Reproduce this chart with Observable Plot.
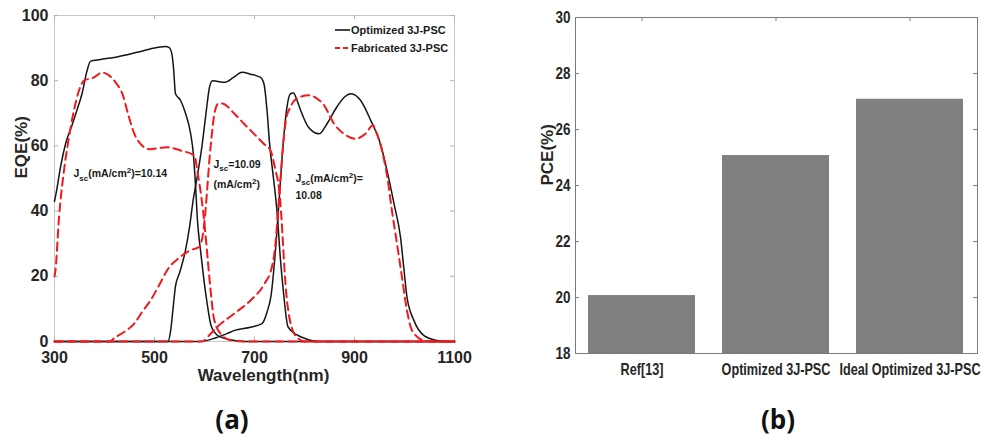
<!DOCTYPE html>
<html><head><meta charset="utf-8">
<script src="https://cdn.jsdelivr.net/npm/d3@7"></script>
<script src="https://cdn.jsdelivr.net/npm/@observablehq/plot@0.6"></script>
<style>
html,body{margin:0;padding:0;background:#fff;}
#wrap{position:relative;width:982px;height:436px;overflow:hidden;}
.panel{position:absolute;top:0;}
.cap{position:absolute;top:404px;width:80px;margin-left:-40px;text-align:center;line-height:30px;
  font-family:'Open Sans','Liberation Sans',sans-serif;font-weight:bold;font-size:26px;color:#111;}
</style></head><body>
<div id="wrap"><div class="cap" style="left:232px">(a)</div><div class="cap" style="left:778px">(b)</div></div>
<script>
// ---------- Panel (a) data: [wavelength (nm), EQE (%)] ----------
const optCell1 = [[300,43],[305,47],[312,53.5],[322,60.6],[335,66.3],[345,71],[355,76],[365,83],[372,86],[392,86.5],[425,87.3],[465,88.7],[505,90.2],[522,90.5],[529,90.2],[535,88],[538,84],[542,76],[552,74],[562,70],[572,64],[578,57],[582,48],[586,37],[592,28],[598,20],[605,12],[613,5],[625,2],[640,1],[660,0.3],[680,0],[1100,0]];
const optCell2 = [[300,0],[527,0],[532,3],[537,10],[542,17],[550,21],[562,28],[570,35],[577,43],[586,51],[595,60],[603,70],[610,78],[616,80],[625,79.8],[640,79.5],[658,81],[675,82.6],[692,82],[712,81],[719,79],[725,71],[730,61],[738,50],[745,40],[752,25],[758,15],[767,4.5],[785,2],[800,1],[825,0],[1100,0]];
const optCell3 = [[300,0],[590,0],[620,1],[645,2.4],[660,3.4],[692,4.4],[715,5.5],[725,9],[733,14],[743,30],[750,45],[757,60],[765,72],[772,76],[778,76.2],[785,74],[792,71],[808,65.7],[829,63.7],[845,66.8],[865,72],[880,75],[893,76],[912,74],[932,68],[952,60.6],[965,52.5],[979,42.3],[992,32],[999,22],[1005,13.6],[1019,6.4],[1039,1.8],[1065,0.3],[1080,0],[1100,0]];
const fabCell1 = [[300,20],[302,22],[309,38],[319,52.5],[329,62.7],[339,71],[349,77],[359,80],[379,81],[395,82.5],[405,82],[422,79.5],[438,75],[445,71],[459,64],[472,60.6],[490,59],[525,59.6],[552,58.6],[580,57],[586,52],[594,44],[600,36],[606,26],[612,16],[619,7],[632,2.4],[652,0.4],[680,0],[1100,0]];
const fabCell2 = [[300,0],[410,0],[419,1],[440,3],[459,5.4],[475,9],[492,12.6],[510,17.5],[525,21.8],[552,26],[572,28],[589,29],[597,33],[602,40],[606,48],[610,56],[615,64],[620,70],[628,73],[635,73],[659,70],[679,66.8],[699,63.7],[719,60.6],[732,58.6],[742,52.5],[749,47],[753,40],[757,30],[760,22],[764,14],[768,9],[775,4],[785,1.3],[800,0],[1100,0]];
const fabCell3 = [[300,0],[595,0],[610,2],[625,4.4],[659,8.5],[692,12.6],[719,17.5],[735,23],[742,30],[747,40],[752,50],[757,60],[763,68],[772,72],[790,75],[810,75.5],[825,74.5],[839,72.5],[859,66.8],[879,63.7],[902,62.2],[922,63.7],[937,66.3],[945,63.7],[955,58.6],[965,51],[975,40],[985,30],[995,19.7],[1005,9.5],[1015,3.4],[1039,0.3],[1060,0],[1100,0]];
const wlTicks = [300,500,700,900,1100];
const eqeTicks = [0,20,40,60,80,100];
const legendLabels = ["Optimized 3J-PSC","Fabricated 3J-PSC"];
const jscLabels = [
  {wl:338, eqe:51.4, text:"J_{sc}(mA/cm^{2})=10.14"},
  {wl:618, eqe:54.3, text:"J_{sc}=10.09"},
  {wl:618, eqe:48.2, text:"(mA/cm^{2})"},
  {wl:782, eqe:50.0, text:"J_{sc}(mA/cm^{2})="},
  {wl:782, eqe:44.8, text:"10.08"}
];

// ---------- Panel (b) data ----------
const barLabels = ["Ref[13]","Optimized 3J-PSC","Ideal Optimized 3J-PSC"];
const pceValues = [20.07, 25.07, 27.08];
const pceTicks = [18,20,22,24,26,28,30];

const toRows = (pts, key) => pts.map(([wl, eqe]) => ({wl, eqe, key}));
const optRows = [...toRows(optCell1,"o1"), ...toRows(optCell2,"o2"), ...toRows(optCell3,"o3")];
const fabRows = [...toRows(fabCell1,"f1"), ...toRows(fabCell2,"f2"), ...toRows(fabCell3,"f3")];
const barRows = barLabels.map((label, i) => ({label, pce: pceValues[i]}));

const RED = "#f2181c", BLACK = "#151515";
const A = {w:490, h:400, ml:54, mr:36, mt:15, mb:59};
const aW = A.w - A.ml - A.mr, aH = A.h - A.mt - A.mb;
const tickCol = "#b0b0b0";

const plotA = Plot.plot({
  width: A.w, height: A.h, marginLeft: A.ml, marginRight: A.mr, marginTop: A.mt, marginBottom: A.mb,
  x: {domain: [300, 1100], label: null},
  y: {domain: [0, 100], label: null},
  style: {fontFamily: "'Liberation Sans', Arial, sans-serif", fontWeight: "bold", fontSize: "16px", color: "#262626", background: "transparent", overflow: "visible"},
  marks: [
    Plot.frame({stroke: "#c8c8c8"}),
    Plot.tickX(wlTicks, {x: d => d, insetTop: aH - 4, stroke: tickCol}),
    Plot.tickX(wlTicks, {x: d => d, insetBottom: aH - 4, stroke: tickCol}),
    Plot.tickY(eqeTicks, {y: d => d, insetRight: aW - 4, stroke: tickCol}),
    Plot.tickY(eqeTicks, {y: d => d, insetLeft: aW - 4, stroke: tickCol}),
    Plot.line(optRows, {x: "wl", y: "eqe", z: "key", stroke: BLACK, strokeWidth: 1.5, curve: "monotone-x"}),
    Plot.line(fabRows, {x: "wl", y: "eqe", z: "key", stroke: RED, strokeWidth: 2, strokeDasharray: "8,5", curve: "monotone-x"}),
    Plot.axisX({ticks: wlTicks, tickFormat: d => String(d), tickSize: 0, tickPadding: 10, label: null}),
    Plot.axisY({ticks: eqeTicks, tickFormat: d => String(d), tickSize: 0, tickPadding: 6, label: null}),
    Plot.text(["Wavelength(nm)"], {text: d => d, frameAnchor: "bottom", dy: 39, dx: 9, fontSize: 17}),
    Plot.text(["EQE(%)"], {text: d => d, frameAnchor: "left", rotate: -90, dx: -33, fontSize: 17}),
    Plot.text(jscLabels, {x: "wl", y: "eqe", text: "text", textAnchor: "start", fontSize: 10.5, fill: "#1a1a1a"})
  ]
});

// rich text (subscripts / superscripts)
function richify(svg){
  d3.select(svg).selectAll("text").each(function(){
    const t = this.textContent;
    if (!/[_^]\{/.test(t)) return;
    const parts = t.split(/([_^]\{[^}]*\})/).filter(s => s.length);
    const sel = d3.select(this); sel.text(null);
    let shift = 0;
    for (const p of parts) {
      let txt = p, target = 0, small = false;
      if (p.startsWith("_{")) { txt = p.slice(2, -1); target = 3.5; small = true; }
      else if (p.startsWith("^{")) { txt = p.slice(2, -1); target = -4; small = true; }
      const ts = sel.append("tspan").text(txt);
      if (target - shift !== 0) ts.attr("dy", target - shift);
      if (small) ts.attr("font-size", 8);
      shift = target;
    }
  });
}
richify(plotA);

// legend (panel a)
const lg = d3.select(plotA).append("g").attr("font-size", 11).attr("font-weight", "bold")
  .attr("fill", "#1a1a1a").attr("text-anchor", "start");
[[BLACK, null, 30], [RED, "5,3", 48]].forEach(([c, dash, y], i) => {
  lg.append("line").attr("x1", 335).attr("x2", 350).attr("y1", y).attr("y2", y)
    .attr("stroke", c).attr("stroke-width", i ? 2 : 1.6).attr("stroke-dasharray", dash);
  lg.append("text").attr("x", 351).attr("y", y).attr("dy", "0.35em").attr("text-anchor", "start").text(legendLabels[i]);
});

// ---------- Panel (b) ----------
const B = {w:492, h:400, ml:85, mr:5, mt:17, mb:47};
const bW = B.w - B.ml - B.mr, bH = B.h - B.mt - B.mb;
const bTick = "#808080";
const plotB = Plot.plot({
  width: B.w, height: B.h, marginLeft: B.ml, marginRight: B.mr, marginTop: B.mt, marginBottom: B.mb,
  x: {type: "band", domain: barLabels, paddingInner: 0.2, paddingOuter: 0.1, label: null},
  y: {domain: [pceTicks[0], pceTicks[pceTicks.length - 1]], label: null},
  style: {fontFamily: "'Liberation Sans', Arial, sans-serif", fontWeight: "bold", fontSize: "17px", color: "#262626", background: "transparent", overflow: "visible"},
  marks: [
    Plot.barY(barRows, {x: "label", y1: pceTicks[0], y2: "pce", fill: "#808080"}),
    Plot.frame({stroke: "#7a7a7a"}),
    Plot.tickX(barLabels, {x: d => d, insetTop: bH - 4, stroke: bTick}),
    Plot.tickX(barLabels, {x: d => d, insetBottom: bH - 4, stroke: bTick}),
    Plot.tickY(pceTicks, {y: d => d, insetRight: bW - 4, stroke: bTick}),
    Plot.tickY(pceTicks, {y: d => d, insetLeft: bW - 4, stroke: bTick}),
    Plot.axisX({tickSize: 0, tickPadding: 10, fontSize: 16, label: null}),
    Plot.axisY({ticks: pceTicks, tickFormat: d => String(d), tickSize: 0, tickPadding: 5, label: null}),
    Plot.text(["PCE(%)"], {text: d => d, frameAnchor: "left", rotate: -90, dx: -28, fontSize: 17})
  ]
});

const wrap = document.getElementById("wrap");
plotA.classList.add("panel"); plotA.style.left = "0px";
plotB.classList.add("panel"); plotB.style.left = "490px";
wrap.appendChild(plotA);
wrap.appendChild(plotB);

// condensed look for panel (b) tick labels (narrow bold face): horizontal squeeze about each anchor
d3.select(plotB).selectAll('g[aria-label="x-axis tick label"] text, g[aria-label="y-axis tick label"] text').each(function(){
  const tr = this.getAttribute("transform") || "";
  this.setAttribute("transform", (tr + " scale(0.79,1)").trim());
});
</script>
</body></html>
